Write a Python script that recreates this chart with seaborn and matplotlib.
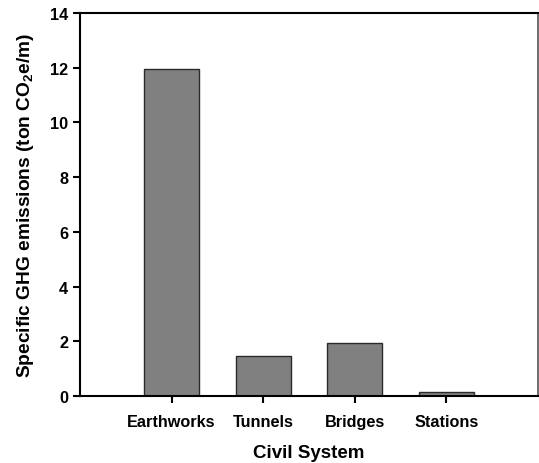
import matplotlib
matplotlib.use("Agg")
import matplotlib.pyplot as plt
import seaborn as sns
import pandas as pd

# values
systems = ["Earthworks", "Tunnels", "Bridges", "Stations"]
emissions = [11.96, 1.46, 1.95, 0.14]

sns.set_style("ticks")
plt.rcParams["font.family"] = ["Liberation Sans", "DejaVu Sans"]
plt.rcParams["font.weight"] = "bold"
plt.rcParams["text.color"] = "black"
plt.rcParams["axes.labelcolor"] = "black"
plt.rcParams["mathtext.fontset"] = "custom"
plt.rcParams["mathtext.rm"] = "Liberation Sans:bold"
plt.rcParams["mathtext.it"] = "Liberation Sans:bold"
plt.rcParams["mathtext.bf"] = "Liberation Sans:bold"

df = pd.DataFrame({"System": systems, "Emissions": emissions})

fig = plt.figure(figsize=(5.39, 4.64), dpi=100)
ax = fig.add_axes([0.1484, 0.1444, 0.8496, 0.8254])

sns.barplot(data=df, x="System", y="Emissions", color="#808080", saturation=1,
            width=0.6, edgecolor="#2a2a2a", linewidth=1.0, ax=ax)

ax.set_xlim(-1, 4)
ax.set_ylim(0, 14)
ax.set_yticks(range(0, 15, 2))
ax.set_xlabel("Civil System", fontsize=13.5, fontweight="bold", labelpad=11, color="black")
ax.set_ylabel("Specific GHG emissions (ton CO$_2$e/m)", fontsize=13.8, fontweight="bold",
              labelpad=10, color="black")
ax.tick_params(axis="both", direction="out", length=5, width=1.5, labelsize=11.7, colors="black")
ax.tick_params(axis="x", pad=8)

for side in ["left", "bottom", "top"]:
    ax.spines[side].set_linewidth(1.5)
    ax.spines[side].set_color("black")
ax.spines["right"].set_linewidth(1.2)
ax.spines["right"].set_color("#555555")

for lbl in ax.get_xticklabels() + ax.get_yticklabels():
    lbl.set_fontweight("bold")

fig.savefig("out.png", dpi=100)
